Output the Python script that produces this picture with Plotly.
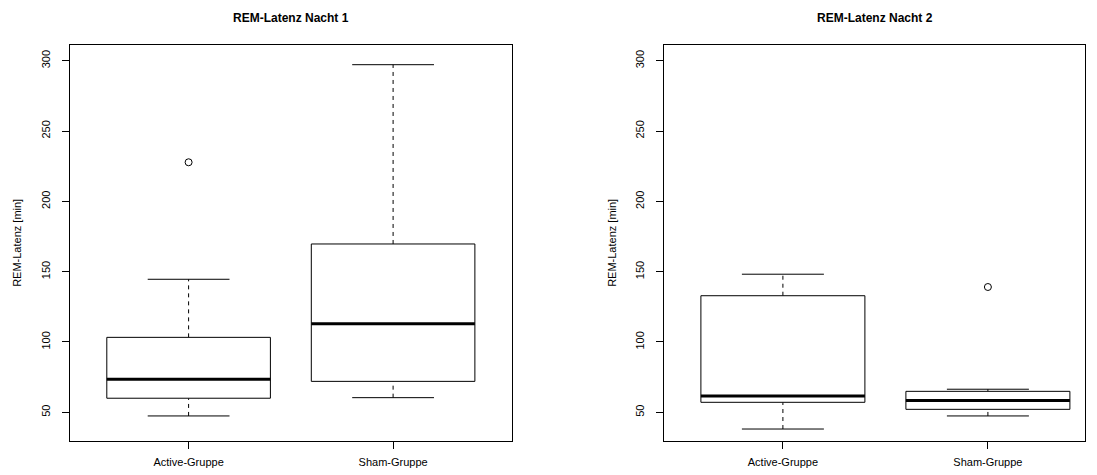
import plotly.graph_objects as go

W, H = 1097, 475
OFF = 8  # browser body margin

groups = ["Active-Gruppe", "Sham-Gruppe"]
positions = [1, 2]

# Nacht 1
n1_lower = [47.4, 60.4]
n1_q1 = [60.0, 72.0]
n1_median = [73.5, 113.0]
n1_q3 = [103.3, 169.7]
n1_upper = [144.6, 297.2]
n1_outliers = [[227.8], []]

# Nacht 2
n2_lower = [38.1, 47.4]
n2_q1 = [57.1, 52.1]
n2_median = [61.6, 58.3]
n2_q3 = [132.9, 64.9]
n2_upper = [148.2, 66.4]
n2_outliers = [[], [139.1]]

titles = ["REM-Latenz Nacht 1", "REM-Latenz Nacht 2"]
y_title = "REM-Latenz [min]"
y_ticks = [50, 100, 150, 200, 250, 300]

panels = [
    (n1_lower, n1_q1, n1_median, n1_q3, n1_upper, n1_outliers),
    (n2_lower, n2_q1, n2_median, n2_q3, n2_upper, n2_outliers),
]

BOXW = 0.4
CAPW = 0.2

fig = go.Figure()

for p, (lo, q1, med, q3, up, outs) in enumerate(panels):
    xa = "x" if p == 0 else "x2"
    ya = "y" if p == 0 else "y2"
    for i, c in enumerate(positions):
        fig.add_trace(go.Scatter(
            x=[c, c, None, c, c], y=[q3[i], up[i], None, lo[i], q1[i]],
            mode="lines", line=dict(color="black", width=1, dash="4px,4px"),
            xaxis=xa, yaxis=ya, showlegend=False, hoverinfo="skip"))
        fig.add_trace(go.Scatter(
            x=[c - CAPW, c + CAPW, None, c - CAPW, c + CAPW],
            y=[up[i], up[i], None, lo[i], lo[i]],
            mode="lines", line=dict(color="black", width=1),
            xaxis=xa, yaxis=ya, showlegend=False, hoverinfo="skip"))
        fig.add_trace(go.Scatter(
            x=[c - BOXW, c + BOXW, c + BOXW, c - BOXW, c - BOXW],
            y=[q1[i], q1[i], q3[i], q3[i], q1[i]],
            mode="lines", line=dict(color="black", width=1),
            fill="toself", fillcolor="white",
            xaxis=xa, yaxis=ya, showlegend=False, hoverinfo="skip"))
        fig.add_trace(go.Scatter(
            x=[c - BOXW, c + BOXW], y=[med[i], med[i]],
            mode="lines", line=dict(color="black", width=3),
            xaxis=xa, yaxis=ya, showlegend=False, hoverinfo="skip"))
        if outs[i]:
            fig.add_trace(go.Scatter(
                x=[c] * len(outs[i]), y=outs[i], mode="markers",
                marker=dict(symbol="circle-open", size=7, color="black",
                            line=dict(width=1, color="black")),
                xaxis=xa, yaxis=ya, showlegend=False, hoverinfo="skip"))


def px_x(v):
    return (v - OFF) / W


def px_y(v):
    return (H - (v - OFF)) / H


top_px, bot_px = 45, 440.7
ydom = [px_y(bot_px), px_y(top_px)]
x1dom = [px_x(70), px_x(511.7)]
x2dom = [px_x(664), px_x(1085)]
yrange = [29.8, 311.2]

font = dict(family="Liberation Sans, Arial, sans-serif", size=11, color="black")

axis_common = dict(showgrid=False, zeroline=False, showline=True, linecolor="black",
                   linewidth=1, mirror=True, ticks="outside", ticklen=7,
                   tickcolor="black", tickwidth=1, tickfont=font)

fig.update_layout(
    width=W, height=H,
    margin=dict(l=0, r=0, t=0, b=0),
    paper_bgcolor="white", plot_bgcolor="white",
    font=font,
    xaxis=dict(domain=x1dom, range=[0.42, 2.58], tickvals=positions, ticktext=groups,
               anchor="y", ticklabelstandoff=4, **axis_common),
    yaxis=dict(domain=ydom, range=yrange, tickvals=y_ticks, tickangle=-90,
               anchor="x", ticklabelstandoff=8, **axis_common),
    xaxis2=dict(domain=x2dom, range=[0.42, 0.42 + 421 / 205], tickvals=positions,
                ticktext=groups, anchor="y2", ticklabelstandoff=4, **axis_common),
    yaxis2=dict(domain=ydom, range=yrange, tickvals=y_ticks, tickangle=-90,
                anchor="x2", ticklabelstandoff=8, **axis_common),
    showlegend=False,
)

for xd, t in zip([(70, 511.7), (664, 1085)], titles):
    fig.add_annotation(x=px_x((xd[0] + xd[1]) / 2), y=px_y(OFF + 1), xref="paper", yref="paper",
                       text="<b>" + t + "</b>", showarrow=False,
                       font=dict(family="Liberation Sans, Arial, sans-serif", size=12, color="black"),
                       xanchor="center", yanchor="top")

for xp in [17, 612]:
    fig.add_annotation(x=px_x(xp), y=px_y((top_px + bot_px) / 2), xref="paper", yref="paper",
                       text=y_title, textangle=-90, showarrow=False, font=font,
                       xanchor="center", yanchor="middle")

fig.write_html("out.html")
